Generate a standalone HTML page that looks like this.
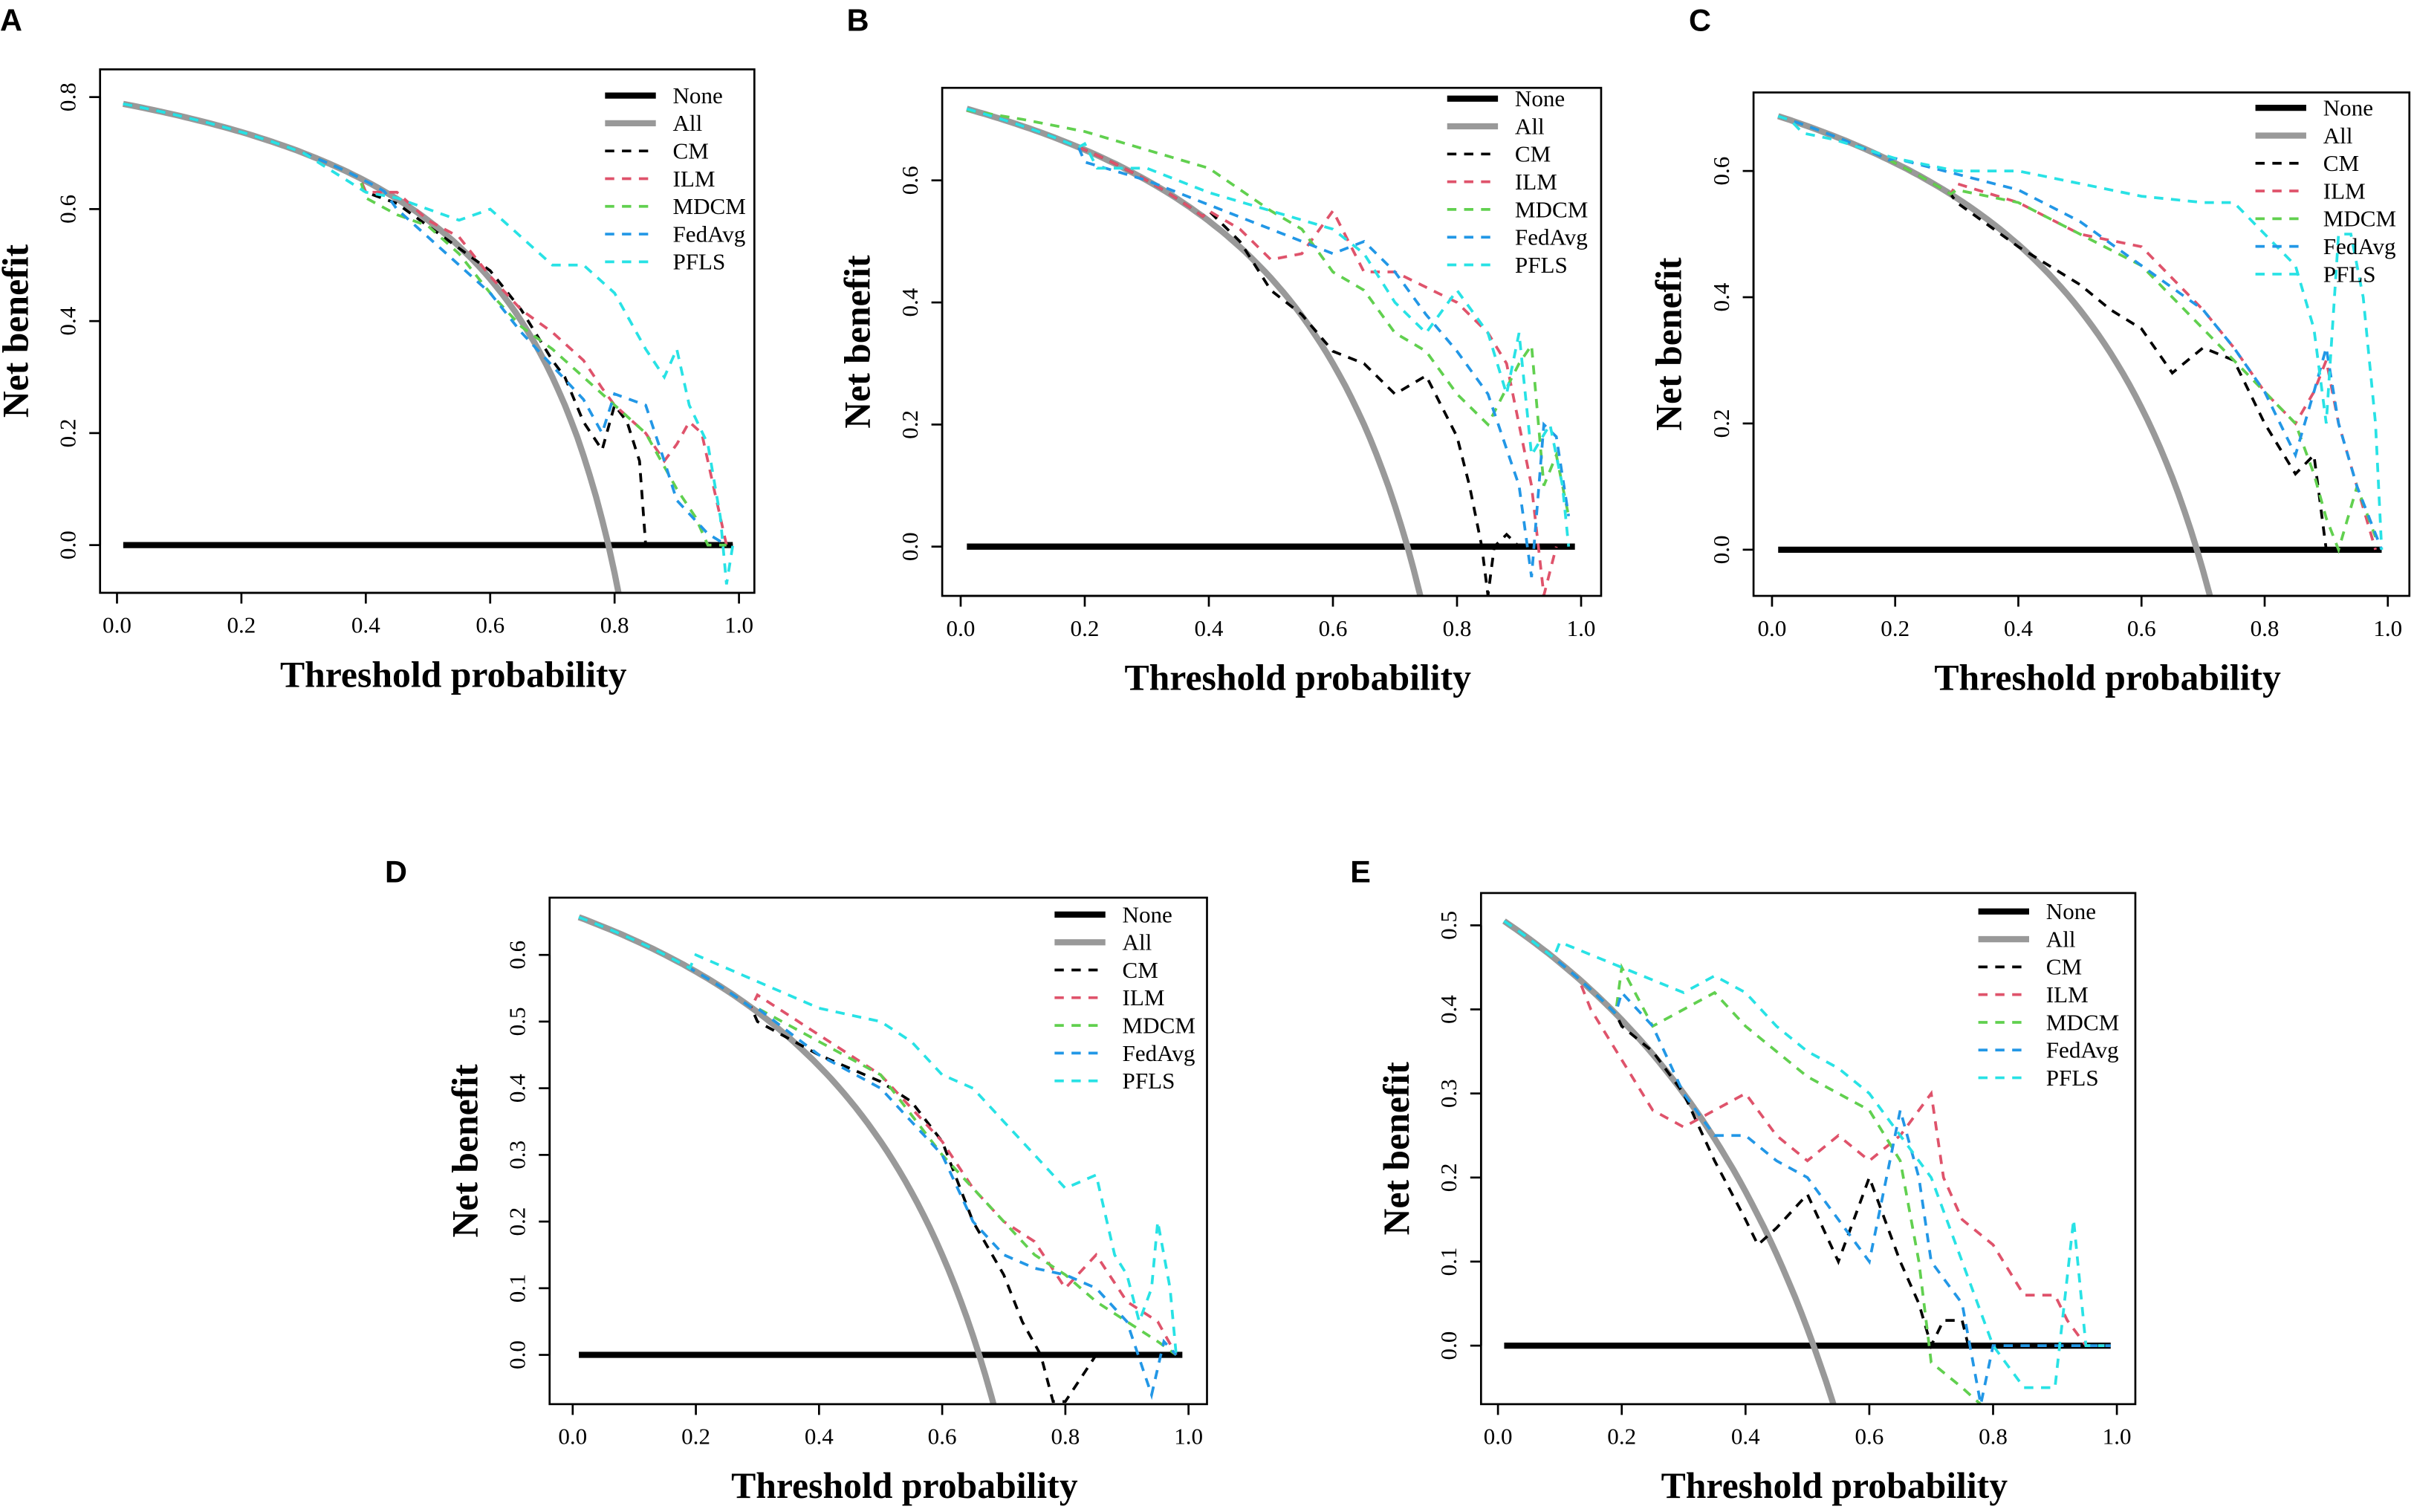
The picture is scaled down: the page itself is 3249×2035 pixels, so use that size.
<!DOCTYPE html>
<html><head><meta charset="utf-8"><style>
html,body{margin:0;padding:0;background:#fff;width:3249px;height:2035px;overflow:hidden;}
svg{display:block;}
text{font-family:"Liberation Serif",serif;}
</style></head><body>
<svg id="fig" width="3249" height="2035" viewBox="0 0 1568 982" xmlns="http://www.w3.org/2000/svg"></svg>
<script>
// ---- data ----
const seriesNames = ["None","All","CM","ILM","MDCM","FedAvg","PFLS"];
const seriesColors = ["#000","#999","#000","#DF536B","#61D04F","#2297E6","#28E2E5"];
const xTicks = [0,0.2,0.4,0.6,0.8,1.0];
const xTickLabels = ["0.0","0.2","0.4","0.6","0.8","1.0"];
const prevalence = [0.79,0.72,0.69,0.66,0.51];
const yTicksA = [0,0.2,0.4,0.6,0.8];
const yTicksB = [0,0.2,0.4,0.6];
const yTicksC = [0,0.2,0.4,0.6];
const yTicksD = [0,0.1,0.2,0.3,0.4,0.5,0.6];
const yTicksE = [0,0.1,0.2,0.3,0.4,0.5];

const aCM=[[.4,.63],[.45,.61],[.5,.57],[.55,.53],[.6,.49],[.65,.42],[.7,.33],[.72,.30],[.75,.22],[.78,.17],[.8,.25],[.82,.22],[.84,.15],[.85,0],[.99,0]];
const aILM=[[.4,.63],[.45,.63],[.5,.58],[.55,.55],[.6,.48],[.65,.42],[.7,.38],[.75,.33],[.78,.28],[.8,.25],[.85,.2],[.88,.15],[.9,.18],[.92,.22],[.94,.2],[.96,.1],[.98,0]];
const aMDCM=[[.4,.62],[.45,.59],[.5,.57],[.55,.52],[.6,.45],[.65,.39],[.7,.35],[.75,.3],[.8,.25],[.85,.2],[.9,.1],[.93,.05],[.95,0],[.98,0]];
const aFed=[[.45,.6],[.5,.55],[.6,.45],[.65,.38],[.7,.32],[.75,.26],[.78,.2],[.8,.27],[.85,.25],[.88,.15],[.9,.08],[.95,.02],[.98,0]];
const aPFLS=[[.3,.7],[.4,.63],[.45,.62],[.5,.6],[.55,.58],[.6,.6],[.65,.55],[.7,.5],[.75,.5],[.8,.45],[.85,.35],[.88,.3],[.9,.35],[.92,.25],[.95,.18],[.97,.05],[.98,-.07],[.99,0]];

const bCM=[[.4,.55],[.45,.5],[.5,.42],[.55,.38],[.6,.32],[.65,.3],[.7,.25],[.75,.28],[.8,.18],[.82,.1],[.84,0],[.85,-.08],[.86,0],[.88,.02],[.9,0],[.99,0]];
const bILM=[[.4,.55],[.45,.52],[.5,.47],[.55,.48],[.6,.55],[.65,.45],[.7,.45],[.8,.4],[.85,.35],[.88,.3],[.9,.2],[.92,.1],[.94,-.08],[.96,0]];
const bMDCM=[[.01,.715],[.1,.7],[.2,.68],[.3,.65],[.4,.62],[.5,.55],[.55,.52],[.6,.45],[.65,.42],[.7,.35],[.75,.32],[.8,.25],[.85,.2],[.9,.3],[.92,.33],[.94,.1],[.96,.15],[.98,.05]];
const bFed=[[.2,.63],[.3,.6],[.4,.56],[.5,.52],[.6,.48],[.65,.5],[.7,.45],[.75,.38],[.8,.32],[.85,.25],[.9,.1],[.92,-.05],[.94,.2],[.96,.18],[.98,.05]];
const bPFLS=[[.2,.66],[.22,.62],[.3,.62],[.4,.58],[.5,.55],[.6,.52],[.65,.48],[.7,.4],[.75,.35],[.8,.42],[.85,.35],[.88,.25],[.9,.35],[.92,.15],[.95,.2],[.97,.1],[.98,0]];

const cCM=[[.3,.55],[.4,.48],[.5,.42],[.55,.38],[.6,.35],[.65,.28],[.7,.32],[.75,.3],[.8,.2],[.85,.12],[.88,.15],[.9,0],[.99,0]];
const cILM=[[.3,.58],[.4,.55],[.5,.5],[.6,.48],[.65,.43],[.7,.38],[.75,.32],[.8,.25],[.85,.2],[.88,.25],[.9,.3],[.92,.2],[.95,.1],[.98,0]];
const cMDCM=[[.3,.57],[.4,.55],[.5,.5],[.6,.45],[.65,.4],[.7,.35],[.75,.3],[.8,.25],[.85,.2],[.88,.12],[.9,.05],[.92,0],[.95,.1],[.98,.02]];
const cFed=[[.2,.62],[.4,.57],[.5,.52],[.6,.45],[.7,.38],[.75,.32],[.8,.25],[.85,.15],[.88,.25],[.9,.32],[.92,.2],[.95,.1],[.99,0]];
const cPFLS=[[.05,.66],[.1,.65],[.2,.62],[.3,.6],[.4,.6],[.5,.58],[.6,.56],[.7,.55],[.75,.55],[.8,.5],[.85,.45],[.88,.35],[.9,.2],[.92,.5],[.94,.5],[.96,.4],[.98,.2],[.99,0]];

const dCM=[[.3,.5],[.4,.45],[.5,.41],[.55,.38],[.6,.32],[.65,.2],[.7,.12],[.73,.05],[.76,0],[.78,-.07],[.8,-.07],[.85,0],[.99,0]];
const dILM=[[.3,.54],[.4,.48],[.5,.42],[.6,.32],[.65,.25],[.7,.2],[.75,.17],[.8,.1],[.85,.15],[.9,.08],[.95,.05],[.98,0]];
const dMDCM=[[.3,.52],[.4,.47],[.5,.42],[.6,.3],[.7,.2],[.75,.15],[.8,.12],[.85,.08],[.9,.05],[.95,.02],[.98,0]];
const dFed=[[.3,.52],[.4,.45],[.5,.4],[.6,.3],[.65,.2],[.7,.15],[.75,.13],[.8,.12],[.85,.1],[.9,.05],[.94,-.06],[.96,.02],[.98,0]];
const dPFLS=[[.2,.6],[.3,.56],[.4,.52],[.45,.51],[.5,.5],[.55,.47],[.6,.42],[.65,.4],[.7,.35],[.75,.3],[.8,.25],[.85,.27],[.88,.15],[.9,.12],[.92,.05],[.94,.1],[.95,.2],[.97,.1],[.98,0]];

const eCM=[[.2,.38],[.25,.35],[.3,.3],[.35,.22],[.4,.15],[.42,.12],[.45,.14],[.5,.18],[.55,.1],[.58,.16],[.6,.2],[.65,.1],[.68,.05],[.7,0],[.72,.03],[.75,.03],[.76,0],[.99,0]];
const eILM=[[.15,.4],[.2,.34],[.25,.28],[.3,.26],[.35,.28],[.4,.3],[.45,.25],[.5,.22],[.55,.25],[.6,.22],[.65,.25],[.7,.3],[.72,.2],[.75,.15],[.8,.12],[.85,.06],[.9,.06],[.92,.03],[.95,0],[.98,0]];
const eMDCM=[[.2,.45],[.25,.38],[.3,.4],[.35,.42],[.4,.38],[.45,.35],[.5,.32],[.55,.3],[.6,.28],[.65,.22],[.68,.1],[.7,-.02],[.75,-.05],[.78,-.07],[.8,-.09]];
const eFed=[[.2,.42],[.25,.38],[.3,.3],[.35,.25],[.4,.25],[.45,.22],[.5,.2],[.55,.15],[.6,.1],[.65,.28],[.68,.2],[.7,.1],[.75,.05],[.78,-.07],[.8,0],[.99,0]];
const ePFLS=[[.1,.48],[.2,.45],[.3,.42],[.35,.44],[.4,.42],[.45,.38],[.5,.35],[.55,.33],[.6,.3],[.65,.25],[.7,.2],[.75,.1],[.8,0],[.85,-.05],[.9,-.05],[.93,.15],[.95,0],[.98,0]];

// ---- layout ----
const panels=[
 {id:"a",letter:"A",lx:0,ly:20,box:[65,45,490,385],x0:76,x1:480,yz:354,yPer:72.75/0.2,ticks:yTicksA,leg:[393,62],series:[aCM,aILM,aMDCM,aFed,aPFLS]},
 {id:"b",letter:"B",lx:550,ly:20,box:[612,57,1040,387],x0:624,x1:1027,yz:355,yPer:79.3/0.2,ticks:yTicksB,leg:[940,64],series:[bCM,bILM,bMDCM,bFed,bPFLS]},
 {id:"c",letter:"C",lx:1097,ly:20,box:[1139,60,1565,387],x0:1151,x1:1551,yz:357,yPer:82/0.2,ticks:yTicksC,leg:[1465,70],series:[cCM,cILM,cMDCM,cFed,cPFLS]},
 {id:"d",letter:"D",lx:250,ly:573,box:[357,583,784,912],x0:372,x1:772,yz:880,yPer:43.3/0.1,ticks:yTicksD,leg:[685,594],series:[dCM,dILM,dMDCM,dFed,dPFLS]},
 {id:"e",letter:"E",lx:877,ly:573,box:[962,580,1387,912],x0:973,x1:1375,yz:874,yPer:54.6/0.1,ticks:yTicksE,leg:[1285,592],series:[eCM,eILM,eMDCM,eFed,ePFLS]}
];
const NS="http://www.w3.org/2000/svg";
const svg=document.getElementById("fig");
function mk(tag,attrs,parent){const e=document.createElementNS(NS,tag);for(const k in attrs)e.setAttribute(k,attrs[k]);(parent||svg).appendChild(e);return e;}
function fmt(v){return v.toFixed(1);}

panels.forEach((P,pi)=>{
  const g=mk("g",{});
  
  
  const sx=t=>P.x0+(P.x1-P.x0)*t;
  const sy=v=>P.yz-v*P.yPer;
  const [bl,bt,br,bb]=P.box;
  const clip=mk("clipPath",{id:"clip"+P.id},g);
  mk("rect",{x:bl,y:bt,width:br-bl,height:bb-bt},clip);
  const lt=mk("text",{x:P.lx,y:P.ly,"font-size":20,"font-weight":"bold",style:"font-family:'Liberation Sans',sans-serif"},g);
  lt.textContent=P.letter;
  
  
  const plot=mk("g",{"clip-path":"url(#clip"+P.id+")"},g);
  const none=mk("line",{x1:sx(0.01),y1:sy(0),x2:sx(0.99),y2:sy(0),stroke:"#000","stroke-width":4},plot);
  
  
  const p=prevalence[pi];let d="";
  for(let t=0.01;t<=0.99;t+=0.01){const v=p-(1-p)*t/(1-t);d+=(d?"L":"M")+sx(t).toFixed(1)+","+sy(v).toFixed(1);}
  const all=mk("path",{d:d,fill:"none",stroke:"#999","stroke-width":4},plot);
  
  
  P.series.forEach((s,si)=>{
    let pts=[];
    for(let t=0.01;t<s[0][0]-0.001;t+=0.02){pts.push([t,p-(1-p)*t/(1-t)]);}
    pts=pts.concat(s);
    const dd=pts.map((q,i)=>(i?"L":"M")+sx(q[0]).toFixed(1)+","+sy(q[1]).toFixed(1)).join("");
    const path=mk("path",{d:dd,fill:"none",stroke:seriesColors[si+2],"stroke-width":1.8,"stroke-dasharray":"6,5"},plot);
    
    
  });
  const box=mk("rect",{x:bl,y:bt,width:br-bl,height:bb-bt,fill:"none",stroke:"#000","stroke-width":1.3},g);
  
  
  mk("line",{x1:sx(0),y1:bb,x2:sx(1),y2:bb,stroke:"#000","stroke-width":1.3},g);
  xTicks.forEach((t,i)=>{
    mk("line",{x1:sx(t),y1:bb,x2:sx(t),y2:bb+7,stroke:"#000","stroke-width":1.3},g);
    const tx=mk("text",{x:sx(t),y:bb+26,"font-size":15,"text-anchor":"middle"},g);
    tx.textContent=xTickLabels[i];
    
    
  });
  const xt=mk("text",{x:(bl+br)/2+17,y:bb+61,"font-size":24,"font-weight":"bold","text-anchor":"middle"},g);
  xt.textContent="Threshold probability";
  
  
  const tk=P.ticks;
  mk("line",{x1:bl,y1:sy(tk[0]),x2:bl,y2:sy(tk[tk.length-1]),stroke:"#000","stroke-width":1.3},g);
  tk.forEach(v=>{
    mk("line",{x1:bl-7,y1:sy(v),x2:bl,y2:sy(v),stroke:"#000","stroke-width":1.3},g);
    const ty=mk("text",{x:bl-16,y:sy(v),"font-size":15,"text-anchor":"middle",transform:"rotate(-90 "+(bl-16)+" "+sy(v)+")"},g);
    ty.textContent=fmt(v);
    
    
  });
  const ycx=bl-47, ycy=(bt+bb)/2;
  const yt=mk("text",{x:ycx,y:ycy,"font-size":24,"font-weight":"bold","text-anchor":"middle",transform:"rotate(-90 "+ycx+" "+ycy+")"},g);
  yt.textContent="Net benefit";
  
  
  const [lx,ly]=P.leg;
  seriesNames.forEach((n,i)=>{
    const yy=ly+i*18;
    const ln=mk("line",{x1:lx,y1:yy,x2:lx+33,y2:yy,stroke:seriesColors[i],"stroke-width":i<2?4:1.8},g);
    if(i>=2) ln.setAttribute("stroke-dasharray","6,5");
    const te=mk("text",{x:lx+44,y:yy+5,"font-size":15},g);
    te.textContent=n;
    
    
  });
});
</script>
</body></html>
